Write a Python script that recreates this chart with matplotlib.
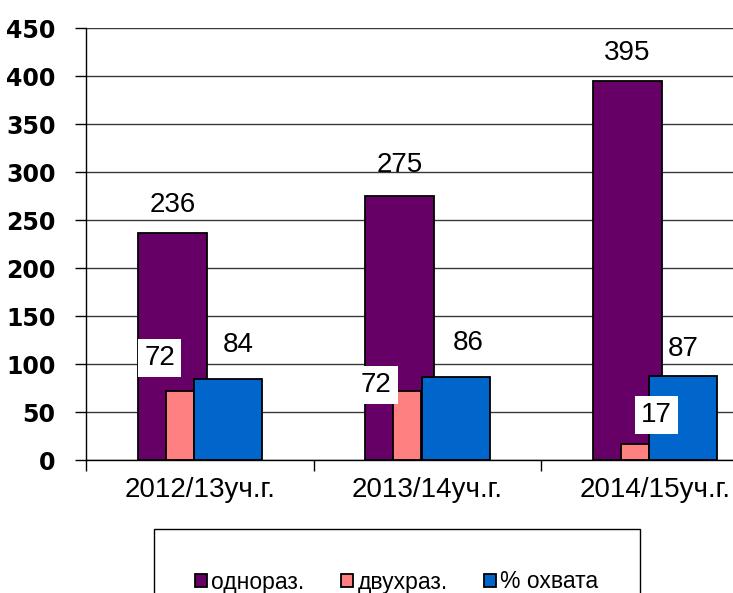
import matplotlib
matplotlib.use("Agg")
import matplotlib.pyplot as plt
import numpy as np

categories = ["2012/13уч.г.", "2013/14уч.г.", "2014/15уч.г."]
series_names = ["однораз.", "двухраз.", "% охвата"]
odnoraz = [236, 275, 395]
dvuhraz = [72, 72, 17]
ohvat = [84, 86, 87]
yticks = [0, 50, 100, 150, 200, 250, 300, 350, 400, 450]

colors = ["#660066", "#FF8080", "#0066CC"]
offsets = [-0.121, -0.088, 0.124]
widths = [0.303, 0.123, 0.298]
# label offsets in pixels (dx, dy from bar top centre)
lab_off = [
    [(0, 28), (0, 31), (0, 28)],
    [(-20, 33), (-31, 6), (21, 29)],
    [(10, 34), (12, 34), (0, 27)],
]
boxed = [False, True, False]

W, H = 733, 593
fig = plt.figure(figsize=(W / 100, H / 100), dpi=100)
ax = fig.add_axes([86 / W, (H - 460) / H, (769 - 86) / W, 432 / H])

x = np.arange(len(categories))
data = [odnoraz, dvuhraz, ohvat]
bars = []
for i, vals in enumerate(data):
    b = ax.bar(x + offsets[i], vals, width=widths[i], color=colors[i],
               edgecolor="black", linewidth=1.3, zorder=3 + i,
               label=series_names[i])
    bars.append(b)
    for j, v in enumerate(vals):
        dx, dy = lab_off[i][j]
        kw = {}
        if boxed[i]:
            kw["bbox"] = dict(boxstyle="square,pad=0.22", fc="white", ec="none")
        ax.annotate(str(v), (x[j] + offsets[i], v), xytext=(dx, dy),
                    textcoords="offset pixels", ha="center", va="center",
                    fontsize=20, family="Liberation Sans", color="black",
                    zorder=10, annotation_clip=False, **kw)

ax.set_xlim(-0.5, 2.5)
ax.set_ylim(0, 450)
ax.set_yticks(yticks)
ax.set_yticklabels([str(t) for t in yticks], fontsize=17,
                   family="DejaVu Sans", fontweight="bold")
ax.yaxis.grid(True, color="#383838", linewidth=1.0, zorder=0)
ax.set_axisbelow(True)

ax.set_xticks([-0.5, 0.5, 1.5, 2.5])
ax.set_xticklabels([])
ax.set_xticks(x, minor=True)
ax.set_xticklabels(categories, minor=True, fontsize=20, family="Liberation Sans")
ax.tick_params(axis="x", which="minor", length=0, pad=12)
ax.tick_params(axis="x", which="major", length=8, width=1, direction="out", color="black")
ax.tick_params(axis="y", length=8, width=1, direction="out", pad=14, color="black")

for s in ["top", "right"]:
    ax.spines[s].set_visible(False)
ax.spines["left"].set_linewidth(1)
ax.spines["bottom"].set_linewidth(1)
ax.spines["left"].set_zorder(8)
ax.spines["bottom"].set_zorder(8)

leg = fig.legend(handles=bars, labels=series_names, loc="center",
                 bbox_to_anchor=(397 / W, 11 / H), ncol=3,
                 prop={"family": "Liberation Sans", "size": 16.5},
                 frameon=True, fancybox=False, shadow=False,
                 borderpad=1.8, handlelength=0.5, handleheight=0.5,
                 handletextpad=0.2, columnspacing=1.6, borderaxespad=0)
leg.get_frame().set_edgecolor("black")
leg.get_frame().set_linewidth(1)
leg.get_frame().set_alpha(1)

fig.savefig("out.png", dpi=100)
